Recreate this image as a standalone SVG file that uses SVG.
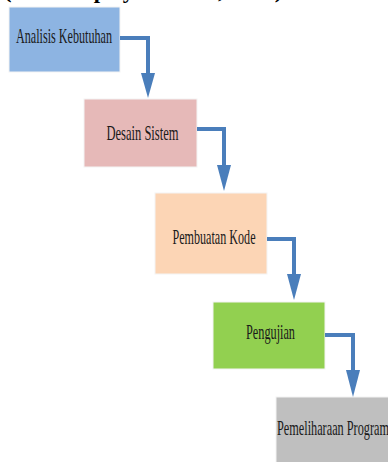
<svg xmlns="http://www.w3.org/2000/svg" width="388" height="462" viewBox="0 0 388 462">
<defs>
<style>
.box{stroke:#f4f4f4;stroke-width:1}
.lbl{font-family:"Liberation Serif","Times New Roman",serif;font-size:21px;fill:#1a1a1a}
.conn{fill:none;stroke:#4a7ebb;stroke-width:4}
.head{fill:#4a7ebb}
</style>
</defs>
<rect width="388" height="462" fill="#ffffff"/>
<text x="4" y="-2" font-family="Liberation Serif, serif" font-weight="bold" font-size="22" fill="#000" textLength="284" lengthAdjust="spacingAndGlyphs">(Kusumapriyadi Setia, 2017).</text>
<g id="n1"><rect class="box" x="9" y="7" width="111" height="65" fill="#8db4e2"/><text class="lbl" x="64" y="43" text-anchor="middle" textLength="96" lengthAdjust="spacingAndGlyphs">Analisis Kebutuhan</text></g>
<g id="n2"><rect class="box" x="84" y="99" width="113" height="68" fill="#e6b9b8"/><text class="lbl" x="142.5" y="140" text-anchor="middle" textLength="72" lengthAdjust="spacingAndGlyphs">Desain Sistem</text></g>
<g id="n3"><rect class="box" x="155" y="193" width="112" height="81" fill="#fcd5b5"/><text class="lbl" x="214" y="244" text-anchor="middle" textLength="83" lengthAdjust="spacingAndGlyphs">Pembuatan Kode</text></g>
<g id="n4"><rect class="box" x="213" y="302" width="112" height="67" fill="#92d050"/><text class="lbl" x="270.5" y="339" text-anchor="middle" textLength="49" lengthAdjust="spacingAndGlyphs">Pengujian</text></g>
<g id="n5"><rect class="box" x="276" y="397" width="115" height="68" fill="#bfbfbf"/><text class="lbl" x="277" y="435" textLength="112" lengthAdjust="spacingAndGlyphs">Pemeliharaan Program</text></g>
<g id="connectors">
<path class="conn" d="M120,38 H148 V74"/><polygon class="head" points="141,73 155,73 148,98"/>
<path class="conn" d="M197,129 H224 V166"/><polygon class="head" points="217,165 231,165 224,191"/>
<path class="conn" d="M267,239 H294 V275"/><polygon class="head" points="287,274 301,274 294,300"/>
<path class="conn" d="M325,335 H353 V371"/><polygon class="head" points="346,370 360,370 353,397"/>
</g>
</svg>
